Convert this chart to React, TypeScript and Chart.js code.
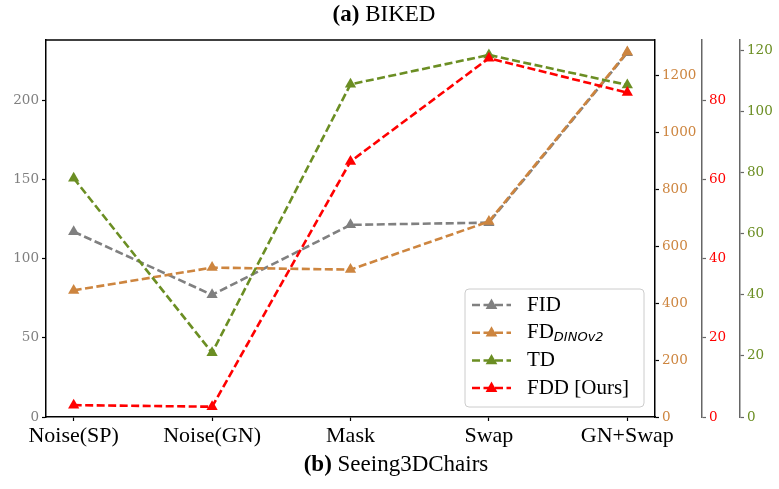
import React, { useEffect, useRef } from "react";
import { Chart, registerables } from "chart.js";

Chart.register(...registerables);

const categories = ["Noise(SP)", "Noise(GN)", "Mask", "Swap", "GN+Swap"];
const fidValues = [117.0, 77.1, 121.3, 122.7, 230.0];
const fdDinoValues = [445, 525, 518, 687, 1283];
const tdValues = [78.1, 21.0, 108.8, 118.4, 108.6];
const fddValues = [3.0, 2.6, 64.6, 90.7, 82.0];

const fidTicks = [0, 50, 100, 150, 200];
const fdTicks = [0, 200, 400, 600, 800, 1000, 1200];
const fddTicks = [0, 20, 40, 60, 80];
const tdTicks = [0, 20, 40, 60, 80, 100, 120];

const GRAY = "#808080";
const ORANGE = "#CD853F";
const GREEN = "#6B8E23";
const RED = "#FF0000";
const SERIF = "'Liberation Serif', serif";
const TICKFONT = "'DejaVu Serif', serif";
const DASH = [8, 3.5];

const toPoints = (vals: number[]) => vals.map((v, i) => ({ x: i, y: v }));

const setTicks = (vals: number[]) => (axis: any) => {
  axis.ticks = vals.map((v) => ({ value: v }));
};

const drawTriangle = (ctx: CanvasRenderingContext2D, x: number, y: number, r: number, color: string) => {
  ctx.save();
  ctx.fillStyle = color;
  ctx.beginPath();
  ctx.moveTo(x, y - r);
  ctx.lineTo(x + r * 0.9, y + r * 0.6);
  ctx.lineTo(x - r * 0.9, y + r * 0.6);
  ctx.closePath();
  ctx.fill();
  ctx.restore();
};

const decorPlugin = {
  id: "decor",
  afterDraw(chart: any) {
    const { ctx, chartArea } = chart;
    ctx.save();
    ctx.strokeStyle = "#000";
    ctx.lineWidth = 1.5;
    ctx.beginPath();
    ctx.moveTo(chartArea.left, chartArea.top);
    ctx.lineTo(chartArea.right, chartArea.top);
    ctx.stroke();

    ctx.fillStyle = "#000";
    ctx.textBaseline = "middle";
    const drawTitle = (bold: string, rest: string, cx: number, cy: number) => {
      ctx.font = `bold 23px ${SERIF}`;
      const w1 = ctx.measureText(bold).width;
      ctx.font = `23px ${SERIF}`;
      const w2 = ctx.measureText(rest).width;
      const x0 = cx - (w1 + w2) / 2;
      ctx.textAlign = "left";
      ctx.font = `bold 23px ${SERIF}`;
      ctx.fillText(bold, x0, cy);
      ctx.font = `23px ${SERIF}`;
      ctx.fillText(rest, x0 + w1, cy);
    };
    drawTitle("(a)", " BIKED", 384, 15);
    drawTitle("(b)", " Seeing3DChairs", 396, 465);

    const lx = 465, ly = 289, lw = 179, lh = 118;
    ctx.beginPath();
    (ctx as any).roundRect(lx, ly, lw, lh, 4);
    ctx.fillStyle = "rgba(255,255,255,0.85)";
    ctx.fill();
    ctx.strokeStyle = "#cccccc";
    ctx.lineWidth = 1;
    ctx.stroke();

    const entries = [
      { color: GRAY, label: "FID", sub: "" },
      { color: ORANGE, label: "FD", sub: "DINOv2" },
      { color: GREEN, label: "TD", sub: "" },
      { color: RED, label: "FDD [Ours]", sub: "" },
    ];
    entries.forEach((e, i) => {
      const y = 305 + i * 27.7;
      ctx.strokeStyle = e.color;
      ctx.lineWidth = 2.5;
      ctx.setLineDash(DASH);
      ctx.beginPath();
      ctx.moveTo(472, y);
      ctx.lineTo(511, y);
      ctx.stroke();
      ctx.setLineDash([]);
      drawTriangle(ctx, 491.5, y, 6.5, e.color);
      ctx.fillStyle = "#000";
      ctx.textAlign = "left";
      ctx.textBaseline = "middle";
      ctx.font = `21px ${SERIF}`;
      ctx.fillText(e.label, 527, y);
      if (e.sub) {
        const w = ctx.measureText(e.label).width;
        ctx.font = `italic 13px 'DejaVu Sans', sans-serif`;
        ctx.fillText(e.sub, 527 + w, y + 5);
      }
    });
    ctx.restore();
  },
};

const makeDataset = (label: string, vals: number[], color: string, axis: string, order: number) => ({
  label,
  data: toPoints(vals),
  yAxisID: axis,
  borderColor: color,
  backgroundColor: color,
  borderWidth: 2.6,
  borderDash: DASH,
  pointStyle: "triangle",
  pointRadius: 6.5,
  pointBorderWidth: 0,
  pointBackgroundColor: color,
  pointBorderColor: color,
  tension: 0,
  order,
});

const tickCallback = (v: any) => String(v);

const rightAxis = (ticks: number[], max: number, labelColor: string, spineColor: string, width: number) => ({
  type: "linear",
  position: "right",
  min: 0,
  max,
  afterBuildTicks: setTicks(ticks),
  afterFit: (axis: any) => {
    axis.width = width;
  },
  grid: {
    display: true,
    drawOnChartArea: false,
    drawTicks: true,
    tickLength: 4,
    tickColor: spineColor,
    tickWidth: 1.2,
  },
  border: { display: true, color: spineColor, width: 1.5 },
  ticks: {
    color: labelColor,
    font: { family: TICKFONT, size: 13.5 },
    padding: 3,
    callback: tickCallback,
  },
});

export default function App() {
  const ref = useRef<HTMLCanvasElement | null>(null);
  useEffect(() => {
    document.body.style.margin = "0";
    const canvas = ref.current;
    if (!canvas) return;
    const chart = new Chart(canvas, {
      type: "line",
      data: {
        datasets: [
          makeDataset("FID", fidValues, GRAY, "y", 4),
          makeDataset("FD_DINOv2", fdDinoValues, ORANGE, "yFD", 3),
          makeDataset("TD", tdValues, GREEN, "yTD", 2),
          makeDataset("FDD [Ours]", fddValues, RED, "yFDD", 1),
        ] as any,
      },
      options: {
        responsive: false,
        animation: false,
        devicePixelRatio: 1,
        layout: { padding: { top: 40, left: 0, right: 0, bottom: 0 } },
        plugins: {
          legend: { display: false },
          title: { display: false },
          tooltip: { enabled: false },
        },
        scales: {
          x: {
            type: "linear",
            min: -0.2,
            max: 4.2,
            afterBuildTicks: setTicks([0, 1, 2, 3, 4]),
            afterFit: (axis: any) => {
              axis.height = 72;
            },
            grid: {
              display: true,
              drawOnChartArea: false,
              drawTicks: true,
              tickLength: 4,
              tickColor: "#000",
              tickWidth: 1.2,
            },
            border: { display: true, color: "#000", width: 1.5 },
            ticks: {
              color: "#000",
              font: { family: SERIF, size: 22 },
              padding: 2,
              maxRotation: 0,
              autoSkip: false,
              callback: (v: any) => categories[Math.round(Number(v))] ?? "",
            },
          },
          y: {
            type: "linear",
            position: "left",
            min: 0,
            max: 238,
            afterBuildTicks: setTicks(fidTicks),
            afterFit: (axis: any) => {
              axis.width = 46;
            },
            grid: {
              display: true,
              drawOnChartArea: false,
              drawTicks: true,
              tickLength: 4,
              tickColor: "#000",
              tickWidth: 1.2,
            },
            border: { display: true, color: "#000", width: 1.5 },
            ticks: {
              color: GRAY,
              font: { family: TICKFONT, size: 13.5 },
              padding: 3,
              callback: tickCallback,
            },
          },
          yFD: rightAxis(fdTicks, 1325, ORANGE, "#000", 47),
          yFDD: rightAxis(fddTicks, 95.3, RED, "#666666", 38),
          yTD: rightAxis(tdTicks, 123.3, GREEN, "#666666", 39),
        } as any,
      },
      plugins: [decorPlugin],
    });
    return () => chart.destroy();
  }, []);
  return <canvas ref={ref} width={779} height={489} style={{ display: "block" }} />;
}
